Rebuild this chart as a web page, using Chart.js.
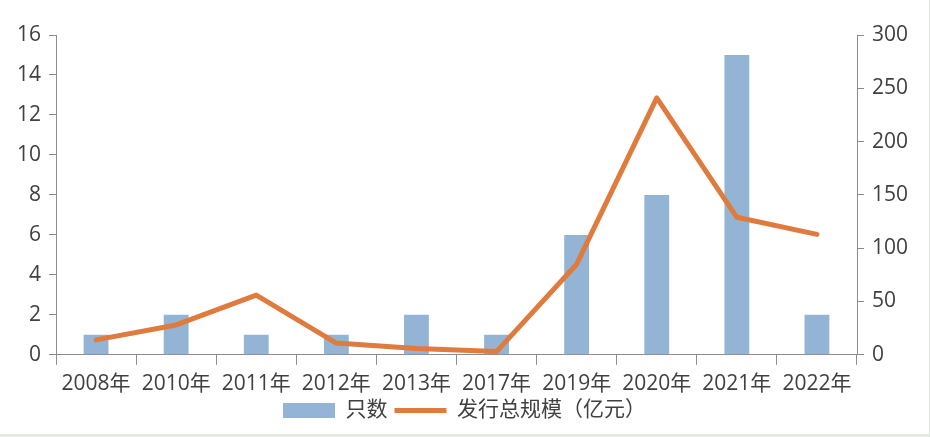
<!DOCTYPE html>
<html>
<head>
<meta charset="utf-8">
<script src="https://cdn.jsdelivr.net/npm/chart.js@4/dist/chart.umd.min.js"></script>
<style>
html,body{margin:0;padding:0;background:#fff;}
#wrap{position:relative;width:929px;height:434px;border-right:1px solid #dfe6df;border-bottom:3px solid #e3eae3;background:#fff;}
</style>
</head>
<body>
<div id="wrap"><canvas id="c" width="929" height="434"></canvas></div>
<script>
const categories = ['2008年','2010年','2011年','2012年','2013年','2017年','2019年','2020年','2021年','2022年'];
const countValues = [1, 2, 1, 1, 2, 1, 6, 8, 15, 2];
const scaleValues = [14, 28, 56, 11, 6, 3, 85, 241, 129, 113];
const seriesNames = ['只数', '发行总规模（亿元）'];

const FONT = '"Open Sans", "Noto Sans CJK SC", sans-serif';
const TEXT = '#404040';
const AXIS = '#8c8c8c';
const BLUE = '#93b4d4';
const ORANGE = '#df7b3d';

new Chart(document.getElementById('c'), {
  data: {
    labels: categories,
    datasets: [
      {
        type: 'line',
        label: seriesNames[1],
        data: scaleValues,
        yAxisID: 'y1',
        borderColor: ORANGE,
        backgroundColor: ORANGE,
        borderWidth: 5,
        pointRadius: 0,
        tension: 0,
        borderCapStyle: 'round',
        borderJoinStyle: 'round',
        order: 0
      },
      {
        type: 'bar',
        label: seriesNames[0],
        data: countValues,
        yAxisID: 'y',
        backgroundColor: BLUE,
        categoryPercentage: 1,
        barPercentage: 0.31,
        order: 1
      }
    ]
  },
  options: {
    responsive: false,
    animation: false,
    devicePixelRatio: 1,
    layout: { padding: { top: 35, bottom: 3, left: 0, right: 0 } },
    plugins: {
      tooltip: { enabled: false },
      legend: {
        position: 'bottom',
        reverse: true,
        labels: {
          color: TEXT,
          font: { family: FONT, size: 21 },
          usePointStyle: true,
          pointStyleWidth: 52,
          boxHeight: 15,
          padding: 7,
          generateLabels(chart) {
            const items = Chart.defaults.plugins.legend.labels.generateLabels(chart);
            items.forEach(it => {
              if (it.datasetIndex === 1) {
                it.pointStyle = 'rect';
                it.lineWidth = 0;
                it.strokeStyle = 'rgba(0,0,0,0)';
                it.fillStyle = BLUE;
              } else {
                it.pointStyle = 'line';
                it.lineWidth = 5;
                it.strokeStyle = ORANGE;
              }
            });
            return items;
          }
        }
      }
    },
    scales: {
      x: {
        type: 'category',
        offset: true,
        grid: { display: true, offset: true, drawOnChartArea: false, drawTicks: true, tickLength: 10, color: AXIS, lineWidth: 1 },
        border: { display: true, color: AXIS, width: 1 },
        ticks: { color: TEXT, font: { family: FONT, size: 21 }, padding: 7, maxRotation: 0, autoSkip: false },
        afterFit(scale) { scale.height -= 11; }
      },
      y: {
        position: 'left',
        min: 0, max: 16,
        ticks: { stepSize: 2, color: TEXT, font: { family: FONT, size: 21 }, padding: 8 },
        grid: { display: true, drawOnChartArea: false, tickLength: 7, color: AXIS },
        border: { display: true, color: AXIS },
        afterFit(scale) { scale.width = 56; }
      },
      y1: {
        position: 'right',
        min: 0, max: 300,
        ticks: { stepSize: 50, color: TEXT, font: { family: FONT, size: 21 }, padding: 8 },
        grid: { display: true, drawOnChartArea: false, tickLength: 7, color: AXIS },
        border: { display: true, color: AXIS },
        afterFit(scale) { scale.width = 72; }
      }
    }
  }
});
</script>
</body>
</html>
